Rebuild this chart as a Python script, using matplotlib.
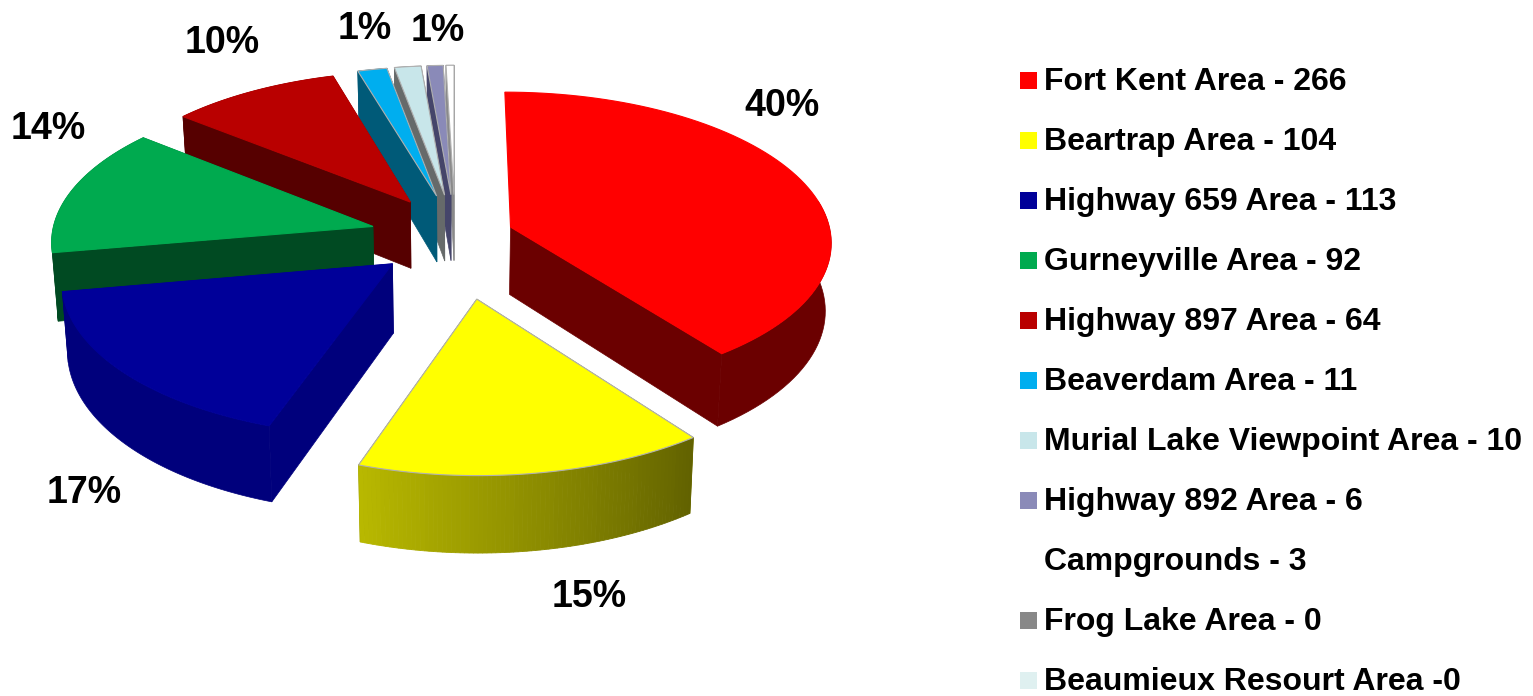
import numpy as np
import matplotlib
matplotlib.use('Agg')
import matplotlib.pyplot as plt
from matplotlib.patches import Rectangle

plt.rcParams['font.family'] = ['Liberation Sans', 'DejaVu Sans']

areas = ['Fort Kent Area', 'Beartrap Area', 'Highway 659 Area', 'Gurneyville Area',
         'Highway 897 Area', 'Beaverdam Area', 'Murial Lake Viewpoint Area',
         'Highway 892 Area', 'Campgrounds', 'Frog Lake Area', 'Beaumieux Resourt Area']
counts = [266, 104, 113, 92, 64, 11, 10, 6, 3, 0, 0]
legend_labels = [f'{a} - {c}' for a, c in zip(areas, counts)]
legend_labels[-1] = 'Beaumieux Resourt Area -0'
top_colors = ['#ff0000', '#ffff00', '#000099', '#00aa4f', '#b90000', '#00aeef',
              '#c8e6ea', '#8a8ab8', '#ffffff', '#888888', '#dff0f0']
side_colors = ['#6b0000', '#8a8a00', '#00007c', '#004a22', '#560000', '#005a78',
               '#666a6a', '#45456a', '#8a8a8a', '#444444', '#777777']
pct_labels = ['40%', '15%', '17%', '14%', '10%', '1%', '1%']
pct_pos = [(782, 106), (589, 597), (84, 493), (48, 129), (222, 43), (365, 29), (438, 31)]

# pie geometry, in pixels
cx, cy = 450, 240
rx, ry = 322, 150
persp = 0.09
ex, ey = 0.23, 0.36
depth = 68
# per slice shift on top of the explode
shift_x = [-9, 15, 0, -6, 0, 3, 4, 5, 5, 0, 0]
shift_y = [4, 4, -12, 0, 6, 7, 7, 7, 7, 0, 0]


def project(ang, mid):
    u = np.sin(ang) + ex * np.sin(mid)
    v = -np.cos(ang) - ey * np.cos(mid)
    s = 1 / (1 - persp * v)
    return cx + rx * u * s, cy + ry * v * s, s


def apex(mid):
    u = ex * np.sin(mid)
    v = -ey * np.cos(mid)
    s = 1 / (1 - persp * v)
    return cx + rx * u * s, cy + ry * v * s, s


def lower(x, y, s):
    return cx + (x - cx) * 0.985, y + depth * s


def yellow_shade(t):
    a = np.array([0xb8, 0xb8, 0x00]) / 255
    b = np.array([0x62, 0x62, 0x00]) / 255
    return tuple(a + (b - a) * t)


fig, ax = plt.subplots(figsize=(15.33, 6.96), dpi=100)
fig.subplots_adjust(0, 0, 1, 1)
ax.set_xlim(0, 1533)
ax.set_ylim(696, 0)
ax.axis('off')

edges = np.cumsum([0] + counts) / sum(counts) * 2 * np.pi
order = [8, 7, 6, 5, 4, 3, 2, 0, 1]

for i in order:
    a0, a1 = edges[i], edges[i + 1]
    mid = (a0 + a1) / 2
    ang = np.linspace(a0, a1, 80)
    x, y, s = project(ang, mid)
    xa, ya, sa = apex(mid)
    xb, yb = lower(x, y, s)
    xab, yab = lower(xa, ya, sa)
    x, xa, xb, xab = x + shift_x[i], xa + shift_x[i], xb + shift_x[i], xab + shift_x[i]
    y, ya, yb, yab = y + shift_y[i], ya + shift_y[i], yb + shift_y[i], yab + shift_y[i]
    side = side_colors[i]
    # radial walls, the red one's back wall is out of sight
    if i != 0:
        ax.fill([xa, x[0], xb[0], xab], [ya, y[0], yb[0], yab], color=side, lw=0.5)
    ax.fill([xa, x[-1], xb[-1], xab], [ya, y[-1], yb[-1], yab], color=side, lw=0.5)
    # outer wall, only the part in front of the top's widest point
    vis = -np.cos(ang) > -0.2 if i == 0 else np.ones(len(ang), bool)
    if i == 1:
        for k in range(len(ang) - 1):
            t = 1 - k / (len(ang) - 2)
            c = yellow_shade(t)
            ax.fill([x[k], x[k + 1], xb[k + 1], xb[k]], [y[k], y[k + 1], yb[k + 1], yb[k]],
                    color=c, lw=0.6)
    else:
        ax.fill(np.r_[x[vis], xb[vis][::-1]], np.r_[y[vis], yb[vis][::-1]], color=side, lw=0.5)
    # top
    edge = '#b0b0b0' if i in (1, 5, 6, 7, 8) else top_colors[i]
    ax.fill(np.r_[xa, x], np.r_[ya, y], facecolor=top_colors[i], edgecolor=edge, lw=0.8)

for txt, (px, py) in zip(pct_labels, pct_pos):
    ax.text(px, py, txt, fontsize=27, fontweight='bold', ha='center', va='center')

legend_y = 82 + 60 * np.arange(len(legend_labels))
for lab, col, ly in zip(legend_labels, top_colors, legend_y):
    ax.add_patch(Rectangle((1020, ly - 10), 17, 17, facecolor=col, edgecolor='none'))
    ax.text(1044, ly, lab, fontsize=23, fontweight='bold', ha='left', va='center')

fig.savefig('out.png', dpi=100)
